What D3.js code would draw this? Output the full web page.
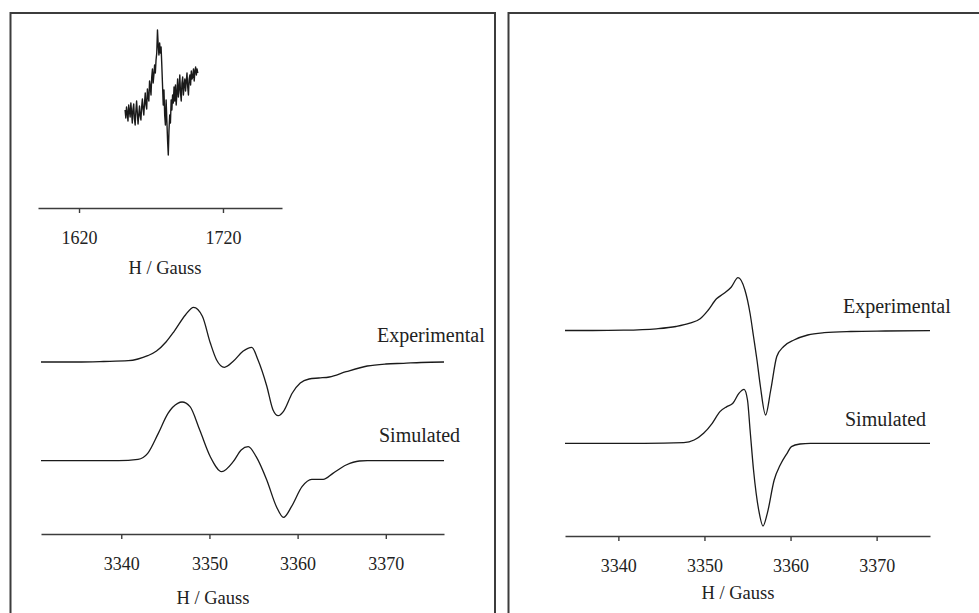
<!DOCTYPE html>
<html>
<head>
<meta charset="utf-8">
<script src="https://cdn.jsdelivr.net/npm/d3@7/dist/d3.min.js"></script>
<style>
  html, body { margin: 0; padding: 0; background: #fff; }
  svg { display: block; }
  text { font-family: "Liberation Serif", "Times New Roman", serif; fill: #222; }
</style>
</head>
<body>
<svg id="chart" width="979" height="613"></svg>
<script>
// ---- Data: EPR derivative spectra, field in gauss, intensity in arbitrary units ----

// Half-field region (inset), 0.5 G steps from 1652 G
const halfFieldStart = 1652;
const halfFieldStep = 0.5;
const halfFieldSignal = [
  5, -3, 8, 2, -6, 10, 4, -2, 12, 3, -8, 6, 11, -4, -10, 4, 14, 2, -9, 0,
  9, -1, -5, 8, 16, 6, 0, 12, 22, 10, 6, 26, 18, 14, 34, 28, 20, 38, 46, 32,
  40, 50, 42, 55, 62, 85, 70, 60, 72, 62, 68, 50, 30, 10, 25, 0, -10, 15, -5, -25,
  -40, -15, 0, -8, 15, 5, 20, 12, 28, 14, 30, 10, 22, 36, 18, 26, 40, 22, 14, 32,
  38, 20, 30, 36, 24, 34, 42, 28, 20, 36, 40, 30, 44, 36, 38, 46, 34, 44, 48, 40,
  46, 42
];
const halfFieldTicks = [1620, 1720];

// Sample A (left panel)
const sampleAExpField = [3330.9, 3335, 3338, 3340.8, 3341.9, 3343, 3344, 3345.1, 3346, 3347.3, 3348.2,
  3349.2, 3350.1, 3350.8, 3351.7, 3352.7, 3353.8, 3354.8, 3355.5, 3356.5, 3357.2, 3357.8,
  3358.4, 3359.4, 3360.3, 3361.3, 3362.4, 3363.6, 3365.5, 3367.9, 3370, 3372, 3374, 3376.6];
const sampleAExp = [0, 0, 0.5, 1.3, 3, 6.3, 11, 20.3, 30.7, 47.3, 54.7,
  45.7, 19, 2.3, -5.3, 0.7, 10.7, 14.7, 2.3, -24, -47.7, -53.7,
  -49.3, -31, -21, -17, -16, -15, -9.7, -4, -2, -1.3, -0.5, 0];

const sampleASimField = [3330.9, 3335, 3339.7, 3341.9, 3343, 3344.2, 3345.3, 3346.4, 3346.9, 3347.8,
  3348.9, 3350.1, 3351.4, 3352.7, 3353.6, 3354.4, 3355.3, 3356.5, 3357.6, 3358.4,
  3359.3, 3360.5, 3361.6, 3362.9, 3364, 3365.5, 3367, 3367.9, 3372, 3376.6];
const sampleASim = [0, 0, 0, 1.3, 7.3, 27.3, 47.3, 57.3, 58.7, 54,
  30.7, 4, -11, -1, 10.7, 14, 4, -19.3, -46, -56.7,
  -46, -26, -18.7, -18.7, -12.7, -4.3, -0.3, 0, 0, 0];

// Sample B (right panel)
const sampleBExpField = [3333.8, 3337, 3340.6, 3344.4, 3346.7, 3348.3, 3349.5, 3350.4, 3351.4, 3352.2,
  3353.1, 3353.9, 3354.7, 3355.3, 3355.7, 3356.1, 3356.5, 3357.1, 3357.7, 3358.4,
  3359.2, 3360.4, 3362, 3363.9, 3367, 3371, 3376.2];
const sampleBExp = [0, 0, 0.3, 1.7, 4, 7.3, 11.7, 20, 31.7, 36.7,
  43.3, 52.8, 40.5, 17, -6, -29.5, -56, -84.5, -59.5, -26,
  -16, -9.5, -4.5, -2.2, -1, -0.5, -0.2];

const sampleBSimField = [3333.8, 3338, 3343, 3347.6, 3348.8, 3349.9, 3350.9, 3351.8, 3352.6, 3353.3,
  3354, 3354.6, 3355, 3355.3, 3355.7, 3356.3, 3356.8, 3357.3, 3358.1, 3358.8,
  3359.6, 3360.1, 3361.1, 3362.3, 3368, 3376.2];
const sampleBSim = [0, 0, 0, 0.7, 3.3, 10, 20, 31.7, 36.7, 40,
  50, 54, 43.3, 13.3, -26.7, -66.7, -82.7, -70, -36.7, -21.7,
  -10, -3.3, -0.7, 0, 0, 0];

const mainTicks = [3340, 3350, 3360, 3370];
const axisTitle = "H / Gauss";
const traceLabels = ["Experimental", "Simulated"];

// ---- Drawing ----
const svg = d3.select("#chart");
const ink = "#1a1a1a";
const frameColor = "#3c3c3c";

// Panel frames (open at the bottom, running off the page)
svg.append("rect").attr("x", 10.5).attr("y", 13).attr("width", 484.5).attr("height", 700)
  .attr("fill", "none").attr("stroke", frameColor).attr("stroke-width", 2);
svg.append("rect").attr("x", 508.5).attr("y", 13).attr("width", 480).attr("height", 700)
  .attr("fill", "none").attr("stroke", frameColor).attr("stroke-width", 2);

// Intensity scale shared by all traces: one unit per pixel, each trace shifted to its own baseline
const yInt = d3.scaleLinear().domain([-100, 100]).range([100, -100]);

function drawAxis(x, axisY, ticks, titleX, titleY) {
  const g = svg.append("g").attr("transform", `translate(0,${axisY})`)
    .call(d3.axisBottom(x).tickValues(ticks).tickFormat(d3.format("d"))
      .tickSizeInner(5).tickSizeOuter(0).tickPadding(18));
  g.select(".domain").attr("stroke", frameColor).attr("stroke-width", 1.4);
  g.selectAll(".tick line").attr("stroke", frameColor).attr("stroke-width", 1.4);
  g.selectAll(".tick text").attr("font-size", 18).attr("font-family", "Liberation Serif").attr("fill", "#222");
  svg.append("text").attr("x", titleX).attr("y", titleY).attr("text-anchor", "middle")
    .attr("font-size", 18.5).text(axisTitle);
}

function drawTrace(x, fields, values, baseline, curve, width) {
  const pts = fields.map((f, i) => [f, values[i]]);
  const line = d3.line().x(d => x(d[0])).y(d => yInt(d[1])).curve(curve);
  svg.append("path").attr("transform", `translate(0,${baseline})`)
    .attr("d", line(pts)).attr("fill", "none").attr("stroke", ink)
    .attr("stroke-width", width).attr("stroke-linejoin", "round");
}

function drawLabel(text, x, y) {
  svg.append("text").attr("x", x).attr("y", y).attr("font-size", 20).text(text);
}

// Inset: half-field region
const xHalf = d3.scaleLinear().domain([1591.5, 1761]).range([38, 282]);
const halfFields = halfFieldSignal.map((_, i) => halfFieldStart + i * halfFieldStep);
drawTrace(xHalf, halfFields, halfFieldSignal, 115, d3.curveLinear, 1.4);
drawAxis(xHalf, 208, halfFieldTicks, 165, 274);

// Left panel: sample A
const xA = d3.scaleLinear().domain([3330.9, 3376.6]).range([41, 444]);
const smooth = d3.curveMonotoneX;
drawTrace(xA, sampleAExpField, sampleAExp, 362, smooth, 1.3);
drawTrace(xA, sampleASimField, sampleASim, 460.7, smooth, 1.3);
drawAxis(xA, 534, mainTicks, 213, 604);
drawLabel(traceLabels[0], 377, 341.5);
drawLabel(traceLabels[1], 379, 442.3);

// Right panel: sample B
const xB = d3.scaleLinear().domain([3333.8, 3376.2]).range([565, 930]);
drawTrace(xB, sampleBExpField, sampleBExp, 330.5, smooth, 1.3);
drawTrace(xB, sampleBSimField, sampleBSim, 443.3, smooth, 1.3);
drawAxis(xB, 536, mainTicks, 738, 599);
drawLabel(traceLabels[0], 843, 313.3);
drawLabel(traceLabels[1], 845, 426);
</script>
</body>
</html>
